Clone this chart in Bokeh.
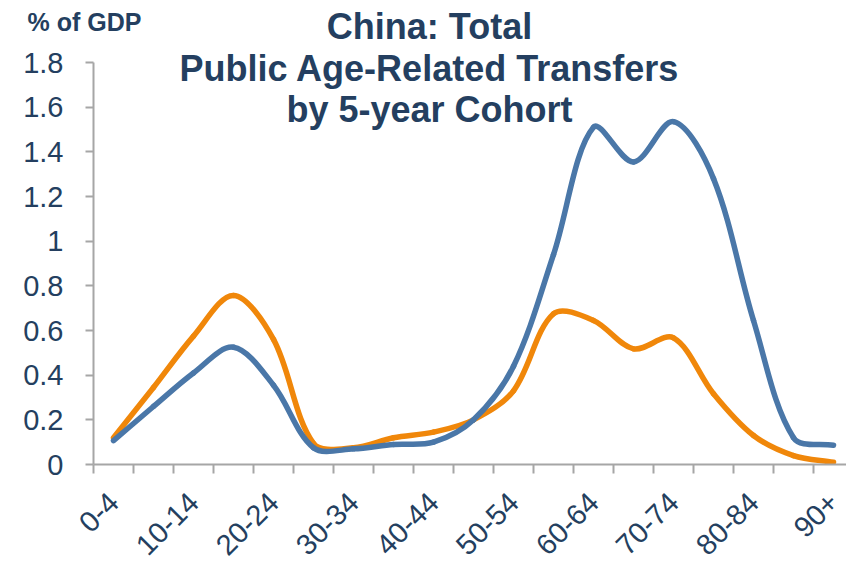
import math
from bokeh.plotting import figure
from bokeh.models import Range1d, FixedTicker, Label, ColumnDataSource
from bokeh.embed import file_html
from bokeh.resources import INLINE

# ---- data ----
categories = ["0-4", "5-9", "10-14", "15-19", "20-24", "25-29", "30-34", "35-39",
              "40-44", "45-49", "50-54", "55-59", "60-64", "65-69", "70-74",
              "75-79", "80-84", "85-89", "90+"]
blue_vals = [0.107, 0.26, 0.41, 0.525, 0.355, 0.075, 0.07, 0.09, 0.10, 0.20,
             0.44, 0.94, 1.51, 1.355, 1.535, 1.28, 0.645, 0.12, 0.086]
orange_vals = [0.12, 0.345, 0.575, 0.757, 0.56, 0.095, 0.075, 0.12, 0.145, 0.20,
               0.33, 0.675, 0.645, 0.518, 0.567, 0.317, 0.13, 0.04, 0.01]
y_ticks = [0, 0.2, 0.4, 0.6, 0.8, 1.0, 1.2, 1.4, 1.6, 1.8]
y_tick_labels = ["0", "0.2", "0.4", "0.6", "0.8", "1", "1.2", "1.4", "1.6", "1.8"]
x_label_step = 2

TEXT = "#243F60"
AXIS = "#A6A6A6"
BLUE = "#4A77A8"
ORANGE = "#F0870A"
FONT = "Liberation Sans"

W, H = 846, 561
axis_x_px = 93          # pixel position of the value axis
zero_y_px = 464         # pixel position of y = 0
px_per_cat = 40.0
px_per_unit_y = 402 / 1.8


def smooth_source(vals):
    """Cubic Bezier segments through the data points (Excel-like smoothing,
    control arms scaled by on-screen segment lengths)."""
    n = len(vals)
    pts = [(float(i), float(v)) for i, v in enumerate(vals)]

    def dist(a, b):
        return math.hypot((b[0] - a[0]) * px_per_cat, (b[1] - a[1]) * px_per_unit_y)

    d = dict(x0=[], y0=[], x1=[], y1=[], cx0=[], cy0=[], cx1=[], cy1=[])
    for i in range(n - 1):
        pm = pts[max(i - 1, 0)]
        p0 = pts[i]
        p1 = pts[i + 1]
        pp = pts[min(i + 2, n - 1)]
        dp, dc, dn = dist(pm, p0), dist(p0, p1), dist(p1, pp)
        f0 = dc / (dp + dc) / 3 if dp + dc > 0 else 0
        f1 = dc / (dc + dn) / 3 if dc + dn > 0 else 0
        d["x0"].append(p0[0]); d["y0"].append(p0[1])
        d["x1"].append(p1[0]); d["y1"].append(p1[1])
        d["cx0"].append(p0[0] + (p1[0] - pm[0]) * f0)
        d["cy0"].append(p0[1] + (p1[1] - pm[1]) * f0)
        d["cx1"].append(p1[0] - (pp[0] - p0[0]) * f1)
        d["cy1"].append(p1[1] - (pp[1] - p0[1]) * f1)
    return ColumnDataSource(d)


# the plot frame covers the whole canvas; both axes are drawn at fixed locations
p = figure(width=W, height=H, output_backend="svg", toolbar_location=None,
           min_border_left=0, min_border_right=0, min_border_top=0,
           min_border_bottom=0)
x_start = -0.5 - axis_x_px / px_per_cat
p.x_range = Range1d(x_start, x_start + W / px_per_cat)
p.y_range = Range1d(-(H - zero_y_px) / px_per_unit_y, zero_y_px / px_per_unit_y)
p.outline_line_color = None
p.xgrid.visible = False
p.ygrid.visible = False
p.background_fill_color = "white"
p.border_fill_color = "white"

for vals, col in ((orange_vals, ORANGE), (blue_vals, BLUE)):
    p.bezier(x0="x0", y0="y0", x1="x1", y1="y1", cx0="cx0", cy0="cy0",
             cx1="cx1", cy1="cy1", source=smooth_source(vals),
             line_color=col, line_width=5.5, line_cap="round")

# x axis (category axis) along y = 0
xa = p.xaxis[0]
xa.fixed_location = 0
xa.ticker = FixedTicker(ticks=list(range(0, len(categories), x_label_step)),
                        minor_ticks=[i - 0.5 for i in range(len(categories) + 1)])
xa.major_label_overrides = {i: categories[i] for i in range(0, len(categories), x_label_step)}
xa.bounds = (-0.5, 18.4)
xa.major_label_orientation = math.pi / 4
xa.major_tick_line_color = None
xa.major_tick_out = 0
xa.major_tick_in = 0
xa.minor_tick_out = 9
xa.minor_tick_in = 0
xa.minor_tick_line_color = AXIS
xa.minor_tick_line_width = 2
xa.axis_line_color = AXIS
xa.axis_line_width = 2
xa.major_label_text_font = FONT
xa.major_label_text_font_size = "29px"
xa.major_label_text_color = TEXT
xa.major_label_standoff = 24

# y axis at the left edge of the first category
ya = p.yaxis[0]
ya.fixed_location = -0.5
ya.ticker = FixedTicker(ticks=y_ticks, minor_ticks=[])
ya.major_label_overrides = {t: l for t, l in zip(y_ticks, y_tick_labels)}
ya.bounds = (0, 1.8)
ya.major_tick_out = 8
ya.major_tick_in = 0
ya.major_tick_line_color = AXIS
ya.major_tick_line_width = 2
ya.minor_tick_line_color = None
ya.axis_line_color = AXIS
ya.axis_line_width = 2
ya.major_label_text_font = FONT
ya.major_label_text_font_size = "29px"
ya.major_label_text_color = TEXT
ya.major_label_standoff = 22

# title lines (screen units: x from left, y up from bottom of canvas)
title_lines = ["China: Total", "Public Age-Related Transfers", "by 5-year Cohort"]
for k, line in enumerate(title_lines):
    p.add_layout(Label(x=429, y=H - 40 - k * 41.5 + 14,
                       x_units="screen", y_units="screen",
                       text=line, text_align="center", text_baseline="alphabetic",
                       text_font=FONT, text_font_style="bold",
                       text_font_size="36px", text_color=TEXT))

p.add_layout(Label(x=27, y=H - 31 + 10, x_units="screen", y_units="screen",
                   text="% of GDP", text_align="left", text_baseline="alphabetic",
                   text_font=FONT, text_font_style="bold",
                   text_font_size="25px", text_color=TEXT))

open("out.html", "w").write(file_html(p, INLINE))
